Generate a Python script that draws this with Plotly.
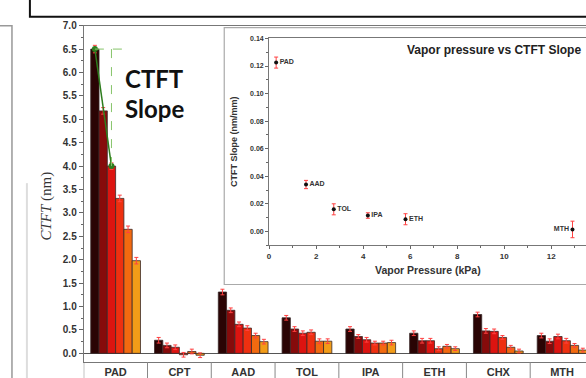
import plotly.graph_objects as go

W, H = 586, 378

# ---------------- data ----------------
categories = ["PAD", "CPT", "AAD", "TOL", "IPA", "ETH", "CHX", "MTH"]
series_names = ["S1", "S2", "S3", "S4", "S5", "S6"]
series_colors = ["#2a0404", "#860b0b", "#dc1410", "#ee3010", "#f26a10", "#f29c18"]
series_values = [
    [6.50, 0.28, 1.31, 0.76, 0.52, 0.43, 0.83, 0.38],
    [5.18, 0.17, 0.92, 0.52, 0.36, 0.27, 0.48, 0.26],
    [4.00, 0.13, 0.62, 0.43, 0.29, 0.27, 0.47, 0.36],
    [3.31, -0.03, 0.54, 0.45, 0.22, 0.10, 0.34, 0.27],
    [2.65, 0.04, 0.38, 0.26, 0.22, 0.15, 0.13, 0.17],
    [1.98, -0.04, 0.25, 0.26, 0.23, 0.10, 0.05, 0.07],
]
series_errors = [
    [0.08, 0.06, 0.06, 0.05, 0.05, 0.05, 0.05, 0.05],
    [0.07, 0.05, 0.05, 0.05, 0.04, 0.05, 0.05, 0.05],
    [0.07, 0.05, 0.05, 0.05, 0.05, 0.05, 0.05, 0.05],
    [0.07, 0.05, 0.05, 0.05, 0.04, 0.04, 0.04, 0.05],
    [0.07, 0.05, 0.05, 0.05, 0.04, 0.04, 0.04, 0.04],
    [0.07, 0.05, 0.05, 0.05, 0.05, 0.04, 0.04, 0.04],
]

inset_labels = ["PAD", "AAD", "TOL", "IPA", "ETH", "MTH"]
vapor_pressure = [0.3, 1.57, 2.75, 4.2, 5.8, 12.9]
ctft_slope = [0.1225, 0.034, 0.016, 0.0115, 0.0088, 0.0014]
ctft_slope_err = [0.004, 0.003, 0.004, 0.002, 0.004, 0.006]

main_yticks = [0, 0.5, 1.0, 1.5, 2.0, 2.5, 3.0, 3.5, 4.0, 4.5, 5.0, 5.5, 6.0, 6.5, 7.0]
inset_yticks = [0.00, 0.02, 0.04, 0.06, 0.08, 0.10, 0.12, 0.14]
inset_xticks = [0, 2, 4, 6, 8, 10, 12]

# ---------------- figure ----------------
fig = go.Figure()
cat_x = list(range(len(categories)))
BARGAP = 0.22
bw = (1 - BARGAP) / len(series_names)

for name, col, vals, errs in zip(series_names, series_colors, series_values, series_errors):
    fig.add_trace(go.Bar(
        x=cat_x, y=vals, name=name,
        marker=dict(color=col, line=dict(color="#3a2a2a", width=0.8)),
        error_y=dict(type="data", array=errs, color="#ff4040", thickness=1, width=2),
        xaxis="x", yaxis="y", showlegend=False,
    ))

# green slope guide between PAD bar 1 and bar 3 tops
x1 = cat_x[0] + (0 - 2.5) * bw
x3 = cat_x[0] + (2 - 2.5) * bw
y1 = series_values[0][0]
y3 = series_values[2][0]
fig.add_trace(go.Scatter(x=[x1, x3], y=[y1, y3], mode="lines+markers",
                         line=dict(color="#2e7d1e", width=1.5),
                         marker=dict(color="#2e7d1e", size=6),
                         xaxis="x", yaxis="y", showlegend=False))
fig.add_trace(go.Scatter(x=[x3, x3], y=[y1, y3], mode="lines",
                         line=dict(color="#86c46a", width=1, dash="dash"),
                         xaxis="x", yaxis="y", showlegend=False))
fig.add_trace(go.Scatter(x=[x1, x3 + 2 * bw], y=[y1, y1], mode="lines",
                         line=dict(color="#86c46a", width=1, dash="dash"),
                         xaxis="x", yaxis="y", showlegend=False))

# inset scatter
fig.add_trace(go.Scatter(
    x=vapor_pressure, y=ctft_slope, mode="markers+text",
    text=["<b>%s</b>" % t for t in inset_labels],
    textposition=["middle right"] * 5 + ["middle left"],
    textfont=dict(family="Liberation Sans", size=7, color="#333"),
    marker=dict(color="#111", size=4),
    error_y=dict(type="data", array=ctft_slope_err, color="#ff4040", thickness=1, width=2),
    xaxis="x2", yaxis="y2", showlegend=False, cliponaxis=False,
))

# main axes geometry (pixels)
px_left = 82
x_lo = -0.5
x_hi = x_lo + (W - px_left) / 64.0
y_bottom_px, y_top_px = 362, 20

def py(p):
    return (H - p) / H

def px(p):
    return p / W

tickfont = dict(family="Liberation Sans", size=10, color="#333")
inset_font = dict(family="Liberation Sans", size=7, color="#333")

fig.update_layout(
    width=W, height=H,
    margin=dict(l=0, r=0, t=0, b=0),
    paper_bgcolor="white", plot_bgcolor="white",
    barmode="group", bargap=BARGAP, bargroupgap=0,
    xaxis=dict(domain=[px(px_left), 1], range=[x_lo, x_hi],
               tickvals=cat_x, ticktext=["<b>%s</b>" % c for c in categories],
               ticks="", tickfont=dict(family="Liberation Sans", size=11, color="#333"),
               showline=True, linecolor="#777", linewidth=1, mirror=True,
               showgrid=False, zeroline=False, fixedrange=True),
    yaxis=dict(domain=[py(y_bottom_px), py(y_top_px)], range=[-0.19, 7.0],
               tickvals=main_yticks, ticktext=["<b>%.1f</b>" % v for v in main_yticks],
               ticks="outside", ticklen=4, tickcolor="#666", tickfont=tickfont,
               minor=dict(ticks="outside", ticklen=2, dtick=0.25, tick0=0, tickcolor="#666"),
               showline=True, linecolor="#777", linewidth=1,
               showgrid=False, zeroline=True, zerolinecolor="#555", zerolinewidth=1),
    xaxis2=dict(domain=[px(268), 1], range=[0, (W - 268) / 23.6], anchor="y2",
                tickvals=inset_xticks, ticktext=["<b>%d</b>" % v for v in inset_xticks],
                ticks="outside", ticklen=3, tickcolor="#666", tickfont=dict(family="Liberation Sans", size=8, color="#333"),
                minor=dict(ticks="outside", ticklen=2, dtick=1, tickcolor="#666"),
                showline=True, linecolor="#777", linewidth=1, mirror=True,
                showgrid=False, zeroline=False),
    yaxis2=dict(domain=[py(243), py(33)], range=[-0.01, 0.14], anchor="x2",
                tickvals=inset_yticks, ticktext=["<b>%.2f</b>" % v for v in inset_yticks],
                ticks="outside", ticklen=3, tickcolor="#666", tickfont=inset_font,
                minor=dict(ticks="outside", ticklen=2, dtick=0.01, tick0=0, tickcolor="#666"),
                showline=True, linecolor="#777", linewidth=1,
                showgrid=False, zeroline=False),
)

shapes = [
    # top neighbouring panel frame
    dict(type="rect", xref="paper", yref="paper", x0=px(28), x1=px(W + 10),
         y0=py(11), y1=py(-10), line=dict(color="#111", width=2), fillcolor="white", layer="above"),
    # left neighbouring panel fragments
    dict(type="rect", xref="paper", yref="paper", x0=px(-10), x1=px(10),
         y0=py(H + 10), y1=py(20), line=dict(color="#999", width=1.5), fillcolor="rgba(0,0,0,0)"),
    dict(type="line", xref="paper", yref="paper", x0=px(25), x1=px(25),
         y0=py(H), y1=py(180), line=dict(color="#ddd", width=2)),
    # inset frame
    dict(type="rect", xref="paper", yref="paper", x0=px(223), x1=px(W + 5),
         y0=py(283), y1=py(22), line=dict(color="#aaa", width=1.2), fillcolor="white", layer="below"),
    # category label band left frame
    dict(type="line", xref="x", yref="paper", x0=x_lo, x1=x_lo,
         y0=0, y1=py(y_bottom_px), line=dict(color="#777", width=1)),
]
for k in range(len(categories)):
    shapes.append(dict(type="line", xref="x", yref="paper", x0=k + 0.5, x1=k + 0.5,
                       y0=0, y1=py(y_bottom_px), line=dict(color="#888", width=1)))
fig.update_layout(shapes=shapes)

ann = [
    dict(text="<b>CTFT</b>", x=px(121), y=py(74), xref="paper", yref="paper",
         xanchor="left", yanchor="middle", showarrow=False,
         font=dict(family="Lato", size=24, color="#111")),
    dict(text="<b>Slope</b>", x=px(121), y=py(104), xref="paper", yref="paper",
         xanchor="left", yanchor="middle", showarrow=False,
         font=dict(family="Lato", size=24, color="#111")),
    dict(text="<i>CTFT</i> (nm)", x=px(45), y=py(203), xref="paper", yref="paper",
         textangle=-90, showarrow=False, xanchor="center", yanchor="middle",
         font=dict(family="Liberation Serif", size=15, color="#333")),
    dict(text="<b>Vapor pressure vs CTFT Slope</b>", x=px(583), y=py(45), xref="paper", yref="paper",
         xanchor="right", yanchor="middle", showarrow=False,
         font=dict(family="Liberation Sans", size=12, color="#222")),
    dict(text="<b>CTFT Slope (nm/mm)</b>", x=px(233), y=py(138), xref="paper", yref="paper",
         textangle=-90, showarrow=False, xanchor="center", yanchor="middle",
         font=dict(family="Liberation Sans", size=9, color="#333")),
    dict(text="<b>Vapor Pressure (kPa)</b>", x=px(427), y=py(268), xref="paper", yref="paper",
         showarrow=False, xanchor="center", yanchor="middle",
         font=dict(family="Liberation Sans", size=10.5, color="#333")),
]
fig.update_layout(annotations=ann)

fig.write_html("out.html")
